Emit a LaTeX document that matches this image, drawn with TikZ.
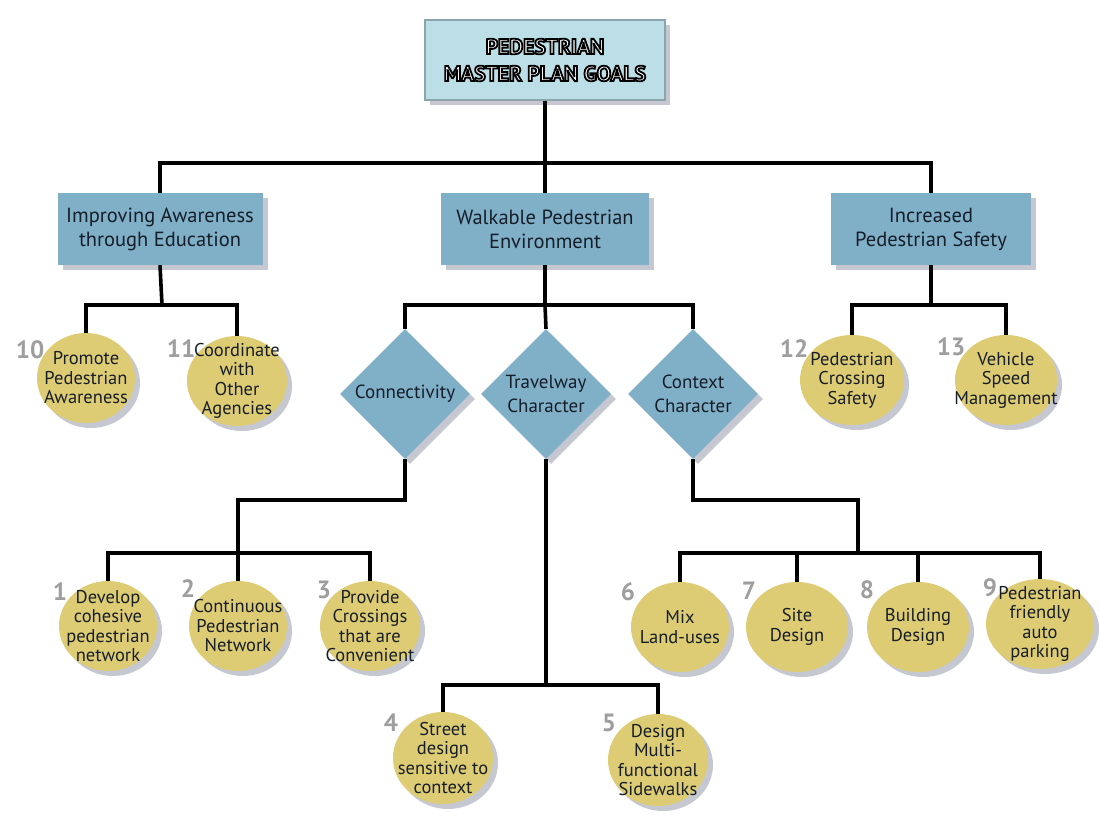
\documentclass[tikz,border=0pt]{standalone}
\usepackage{fontspec}
\setmainfont{PT Sans}
\usetikzlibrary{shapes.geometric,shadows}
\definecolor{boxblue}{RGB}{128,175,200}
\definecolor{topblue}{RGB}{188,222,231}
\definecolor{topedge}{RGB}{140,165,172}
\definecolor{ellyel}{RGB}{222,204,116}
\definecolor{numgray}{RGB}{158,158,158}
\definecolor{txt}{RGB}{22,30,40}
\definecolor{shadowc}{RGB}{90,100,125}
\newcommand{\outlinetext}[1]{{\color{white}\special{pdf:literal direct 2 Tr 1.8 w 0 G}#1\special{pdf:literal direct 0 Tr}}}
\tikzset{
  conn/.style={line width=3.6pt, black},
  myshadow/.style={drop shadow={opacity=0.35, fill=shadowc, shadow xshift=5pt, shadow yshift=-5pt}},
  goalbox/.style={rectangle, fill=boxblue, minimum height=72pt, inner sep=0pt, align=center,
    font=\fontsize{20.5}{24}\selectfont, text=txt, myshadow},
  topbox/.style={rectangle, fill=topblue, draw=topedge, line width=2pt, minimum width=240pt,
    minimum height=80pt, inner sep=0pt, align=center, myshadow},
  dia/.style={diamond, fill=boxblue, minimum width=130pt, minimum height=130pt, inner sep=-8pt,
    align=center, font=\fontsize{19}{24}\selectfont, text=txt, myshadow},
  goal/.style={ellipse, fill=ellyel, minimum width=98pt, minimum height=90pt,
    inner xsep=-22pt, inner ysep=-18pt,
    align=center, font=\fontsize{18.5}{19.5}\selectfont, text=txt, myshadow},
  num/.style={font=\bfseries\fontsize{25}{25}\selectfont, text=numgray, inner sep=0pt}
}
\begin{document}
\begin{tikzpicture}[x=1pt,y=-1pt]
\useasboundingbox[fill=white] (0,0) rectangle (1100,832);

% top
\node[topbox, font=\bfseries\fontsize{21.5}{27}\selectfont] (top) at (545,60)
  {\outlinetext{PEDESTRIAN}\\\outlinetext{MASTER PLAN GOALS}};

% level 2
\node[goalbox, minimum width=205pt] (L) at (160,229) {Improving Awareness\\through Education};
\node[goalbox, minimum width=208pt] (M) at (545,229) {Walkable Pedestrian\\Environment};
\node[goalbox, minimum width=200pt] (R) at (931,229) {Increased\\Pedestrian Safety};

% diamonds
\node[dia] (conn) at (405,394) {Connectivity};
\node[dia] (trav) at (546,394) {Travelway\\Character};
\node[dia] (ctx) at (693,394) {Context\\Character};

% ellipses
\node[goal] (e10) at (86,378) {Promote\\Pedestrian\\Awareness};
\node[goal, minimum width=100pt] (e11) at (237,381) {Coordinate\\with\\Other\\Agencies};
\node[goal, minimum width=104pt] (e12) at (852,380) {Pedestrian\\Crossing\\Safety};
\node[goal, minimum width=102pt] (e13) at (1006,380) {Vehicle\\Speed\\Management};

\node[goal] (e1) at (108,626) {Develop\\cohesive\\pedestrian\\network};
\node[goal] (e2) at (238,626) {Continuous\\Pedestrian\\Network};
\node[goal, minimum width=100pt] (e3) at (370,626) {Provide\\Crossings\\that are\\Convenient};

\node[goal, minimum width=100pt, minimum height=92pt] (e4) at (443,758) {Street\\design\\sensitive to\\context};
\node[goal, minimum width=100pt, minimum height=92pt] (e5) at (658,760) {Design\\Multi-\\functional\\Sidewalks};

\node[goal] (e6) at (680,627) {Mix\\Land-uses};
\node[goal, minimum width=102pt] (e7) at (797,627) {Site\\Design};
\node[goal, minimum width=102pt] (e8) at (918,627) {Building\\Design};
\node[goal, minimum width=108pt] (e9) at (1040,624) {Pedestrian\\friendly\\auto\\parking};

% numbers
\node[num] (n10) at (30,350) {10};
\node[num] (n11) at (181,349) {11};
\node[num] (n12) at (794,349) {12};
\node[num] (n13) at (951,347) {13};
\node[num] (n1) at (60,592) {1};
\node[num] (n2) at (188,589) {2};
\node[num] (n3) at (324,590) {3};
\node[num] (n4) at (391,723) {4};
\node[num] (n5) at (609,723) {5};
\node[num] (n6) at (628,592) {6};
\node[num] (n7) at (749,591) {7};
\node[num] (n8) at (867,590) {8};
\node[num] (n9) at (990,588) {9};

% bus coordinates
\coordinate (b1) at (545,163);
\coordinate (bL) at (162,305);
\coordinate (bM) at (545,305);
\coordinate (bR) at (931,305);
\coordinate (cA) at (238,500);
\coordinate (cB) at (238,553);
\coordinate (dA) at (858,500);
\coordinate (dB) at (858,553);
\coordinate (tB) at (546,685);

% connectors
\draw[conn] (top.south) -- (b1) -- (M.north);
\draw[conn] (L.north) |- (b1) -| (R.north);

\draw[conn] (L.south) -- (bL);
\draw[conn] (e10.north) |- (bL) -| (e11.north);

\draw[conn] (R.south) -- (bR);
\draw[conn] (e12.north) |- (bR) -| (e13.north);

\draw[conn] (M.south) -- (bM) -- (trav.north);
\draw[conn] (conn.north) |- (bM) -| (ctx.north);

\draw[conn] (conn.south) |- (cA) -- (cB);
\draw[conn] (e1.north) |- (cB) -| (e3.north);
\draw[conn] (cB) -- (e2.north);

\draw[conn] (trav.south) -- (tB);
\draw[conn] (e4.north) |- (tB) -| (e5.north);

\draw[conn] (ctx.south) |- (dA) -- (dB);
\draw[conn] (e6.north) |- (dB) -| (e9.north);
\draw[conn] (e7.north) -- (e7.north |- dB);
\draw[conn] (e8.north) -- (e8.north |- dB);
\end{tikzpicture}
\end{document}
